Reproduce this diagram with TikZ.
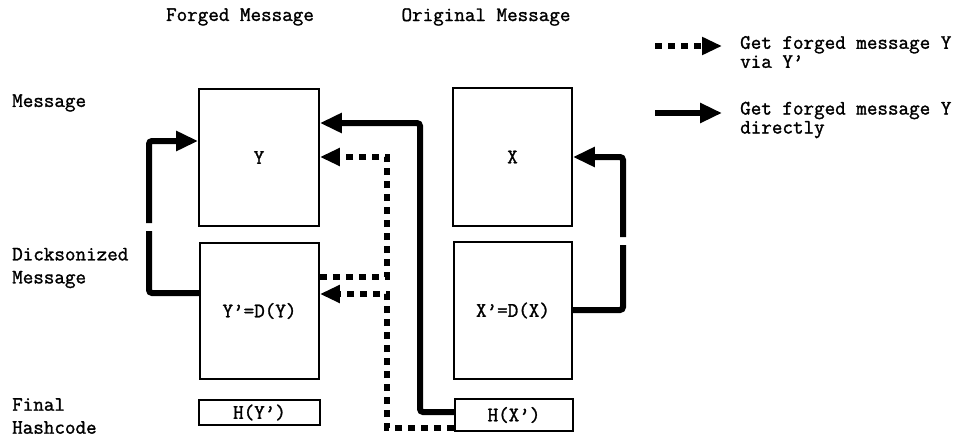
\documentclass[tikz,border=0pt]{standalone}
\usepackage{fontspec}
\setmainfont{Latin Modern Mono}[FakeBold=1.4]
\usetikzlibrary{arrows.meta}
\begin{document}
\begin{tikzpicture}[x=1pt,y=-1pt,
  font=\fontsize{20.5}{19}\selectfont,
  box/.style={draw, line width=1.8pt, inner sep=0pt},
  lbl/.style={anchor=west, align=left, inner sep=0pt},
  rowlbl/.style={lbl, font=\fontsize{20.5}{23}\selectfont},
  thick arrow/.style={line width=6pt, rounded corners=3pt,
    -{Triangle[length=22pt,width=19pt]}},
  thick line/.style={line width=6pt, rounded corners=3pt},
  dot arrow/.style={line width=5.5pt, dash pattern=on 7pt off 6pt,
    -{Triangle[length=20pt,width=17pt]}}]
\useasboundingbox (0,0) rectangle (965,441);

% column headings
\node (hf) at (240,17) {Forged Message};
\node (ho) at (486,17) {Original Message};

% row labels
\node[rowlbl] (rm) at (12,103) {Message};
\node[rowlbl] (rd) at (12,268) {Dicksonized\\Message};
\node[rowlbl] (rh) at (12,416) {Final\\Hashcode};

% forged column
\node[box, minimum width=120pt, minimum height=137pt] (y)  at (259,157.5) {Y};
\node[box, minimum width=119pt, minimum height=136pt] (yd) at (259.5,311) {Y'=D(Y)};
\node[box, minimum width=121pt, minimum height=25pt]  (hy) at (259.5,412.5) {H(Y')};

% original column
\node[box, minimum width=119pt, minimum height=138pt] (x)  at (512.5,157) {X};
\node[box, minimum width=118pt, minimum height=137pt] (xd) at (513,310.5) {X'=D(X)};
\node[box, minimum width=118pt, minimum height=32pt]  (hx) at (514,415) {H(X')};

% Y' back to Y (left loop, broken between the rows)
\coordinate (la) at (149,223);
\coordinate (lb) at (149,231);
\draw[thick line] (yd.west |- 0,293) -| (lb);
\draw[thick arrow] (la) |- (y.west |- 0,141);

% X' back to X (right loop, broken between the rows)
\coordinate (ra) at (623,237);
\coordinate (rb) at (623,245);
\draw[thick line] (xd.east |- 0,310) -| (rb);
\draw[thick arrow] (ra) |- (x.east |- 0,157);

% direct route H(X') -> Y
\draw[thick arrow] (hx.west |- 0,412) -| (420,123) -- (y.east |- 0,123);

% route via Y'
\draw[dot arrow] (hx.west |- 0,428) -| (387,294) -- (yd.east |- 0,294);
\draw[dot arrow] (yd.east |- 0,277) -| (387,157) -- (y.east |- 0,157);

% legend
\coordinate (l1a) at (655,46);
\coordinate (l1b) at (722,46);
\draw[dot arrow] (l1a) -- (l1b);
\node[lbl] (l1t) at (740,52) {Get forged message Y\\via Y'};
\coordinate (l2a) at (655,113);
\coordinate (l2b) at (722,113);
\draw[line width=6pt, -{Triangle[length=22pt,width=19pt]}] (l2a) -- (l2b);
\node[lbl] (l2t) at (740,120) {Get forged message Y\\directly};
\end{tikzpicture}
\end{document}
